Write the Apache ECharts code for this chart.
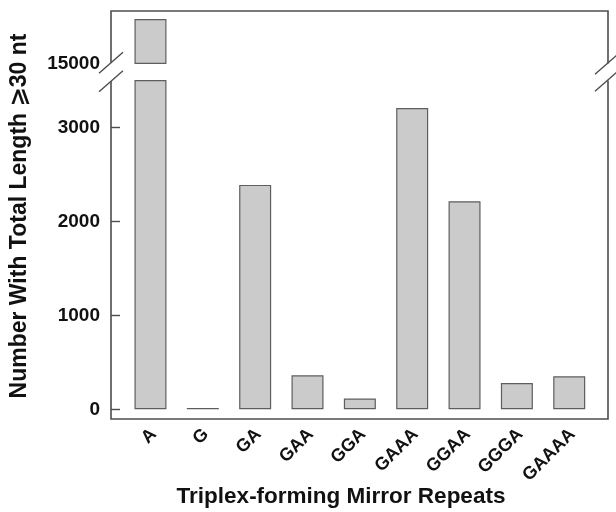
<!DOCTYPE html>
<html>
<head>
<meta charset="utf-8">
<script src="https://cdn.jsdelivr.net/npm/echarts@6/dist/echarts.min.js"></script>
<style>
  html, body { margin: 0; padding: 0; background: #ffffff; }
  #chart { width: 616px; height: 512px; }
</style>
</head>
<body>
<div id="chart"></div>
<script>
// Mirror-repeat motifs and how many of each reach a total length of at least 30 nt
const categories = ['A', 'G', 'GA', 'GAA', 'GGA', 'GAAA', 'GGAA', 'GGGA', 'GAAAA'];
const counts = [15470, 15, 2390, 362, 115, 3210, 2216, 280, 351];

// Lower axis segment (0..3500) and the broken upper segment (from 15000)
const lowerRange = [0, 3500];
const upperRange = [15000, 15556];
const lowerTicks = [0, 1000, 2000, 3000];
const upperTicks = [15000];

const xTitle = 'Triplex-forming Mirror Repeats';
const yTitle = 'Number With Total Length \u2A7E30 nt';

// ---- layout ----
const FONT = '"Liberation Sans", Arial, "DejaVu Sans", sans-serif';
const TEXT = '#111111';
const LINE = '#4d4d4d';
const frame = { left: 111, right: 608, top: 11, bottom: 419 };
const gapTop = 62.8, gapBottom = 81.3;       // where the axis is broken
const plotLeft = 124.3, plotRight = 20.6;   // category band area
const lowerTop = 80.7, lowerBottom = 512 - 409.3;
const upperTop = 11, upperBottom = 512 - 63.3;
const axisOffset = plotLeft - frame.left;

const barStyle = { color: '#cbcbcb', borderColor: '#5e5e5e', borderWidth: 1.2 };
const plainNumber = v => String(v);

function slash(cx, cy) {
  return {
    type: 'line', silent: true,
    shape: { x1: cx - 12, y1: cy + 10.5, x2: cx + 12, y2: cy - 10.5 },
    style: { stroke: LINE, lineWidth: 1.4 }
  };
}

const chart = echarts.init(document.getElementById('chart'), null, { renderer: 'canvas' });

chart.setOption({
  animation: false,
  backgroundColor: '#ffffff',
  grid: [
    { left: plotLeft, right: plotRight, top: lowerTop, bottom: lowerBottom },
    { left: plotLeft, right: plotRight, top: upperTop, bottom: upperBottom }
  ],
  xAxis: [
    {
      type: 'category', gridIndex: 0, data: categories, offset: 10,
      axisLine: { show: false }, axisTick: { show: false },
      axisLabel: {
        rotate: 45, margin: 9, interval: 0,
        verticalAlign: 'top', lineHeight: 9,
        fontFamily: FONT, fontWeight: 'bold', fontSize: 18, color: TEXT
      }
    },
    {
      type: 'category', gridIndex: 1, data: categories,
      axisLine: { show: false }, axisTick: { show: false }, axisLabel: { show: false }
    }
  ],
  yAxis: [
    {
      type: 'value', gridIndex: 0, min: lowerRange[0], max: lowerRange[1],
      offset: axisOffset, splitLine: { show: false },
      axisLine: { show: false },
      axisTick: {
        show: true, inside: true, length: 9, customValues: lowerTicks,
        lineStyle: { color: LINE, width: 1.4 }
      },
      axisLabel: {
        customValues: lowerTicks, margin: 11, formatter: plainNumber,
        fontFamily: FONT, fontWeight: 'bold', fontSize: 19, color: TEXT
      }
    },
    {
      type: 'value', gridIndex: 1, min: upperRange[0], max: upperRange[1],
      offset: axisOffset, splitLine: { show: false },
      axisLine: { show: false }, axisTick: { show: false },
      axisLabel: {
        customValues: upperTicks, margin: 11, formatter: plainNumber,
        fontFamily: FONT, fontWeight: 'bold', fontSize: 19, color: TEXT
      }
    }
  ],
  series: [
    {
      type: 'bar', xAxisIndex: 0, yAxisIndex: 0, data: counts,
      barWidth: 32, clip: true, itemStyle: barStyle
    },
    {
      type: 'bar', xAxisIndex: 1, yAxisIndex: 1,
      data: counts.map(v => (v > upperRange[0] ? v : null)),
      barWidth: 32, clip: true, itemStyle: barStyle
    }
  ],
  graphic: [
    // plot frame, interrupted at the axis break
    {
      type: 'polyline', silent: true,
      shape: { points: [[frame.left, gapTop], [frame.left, frame.top], [frame.right, frame.top], [frame.right, gapTop + 0.8]] },
      style: { stroke: LINE, lineWidth: 1.6, fill: null }
    },
    {
      type: 'polyline', silent: true,
      shape: { points: [[frame.left, gapBottom], [frame.left, frame.bottom], [frame.right, frame.bottom], [frame.right, gapBottom - 0.8]] },
      style: { stroke: LINE, lineWidth: 1.6, fill: null }
    },
    slash(frame.left, gapTop), slash(frame.left, gapBottom),
    slash(frame.right - 1, gapTop + 1), slash(frame.right - 1, gapBottom - 0.5),
    {
      type: 'text', silent: true, x: 341, y: 497,
      style: {
        text: xTitle, align: 'center', verticalAlign: 'middle',
        font: 'bold 22.5px ' + FONT, fill: TEXT
      }
    },
    {
      type: 'text', silent: true, x: 19.5, y: 216, rotation: Math.PI / 2,
      style: {
        text: yTitle, align: 'center', verticalAlign: 'middle',
        font: 'bold 23px ' + FONT, fill: TEXT
      }
    }
  ]
});
</script>
</body>
</html>
